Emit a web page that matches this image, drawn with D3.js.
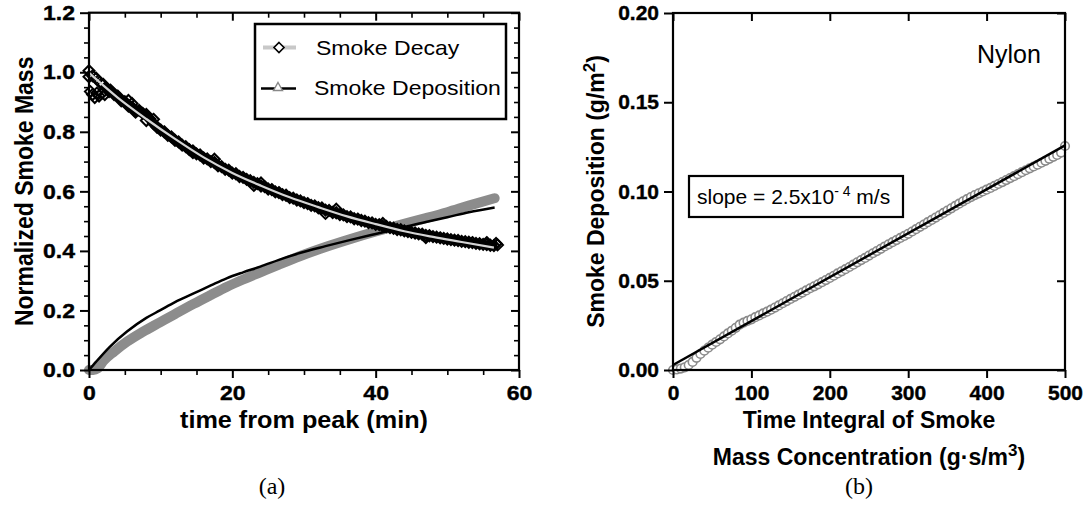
<!DOCTYPE html>
<html>
<head>
<meta charset="utf-8">
<script src="https://cdn.jsdelivr.net/npm/d3@7"></script>
<style>
  body { margin: 0; background: #fff; }
  svg text { font-family: "Liberation Sans", Arial, sans-serif; }
</style>
</head>
<body>
<svg id="fig" width="1085" height="512"></svg>
<script>
// ---- panel (a): normalized smoke mass vs time (min) ----
// decay data, one reading every 0.5 min from t = 0
const decayMass = [1.005,0.988,0.980,0.966,0.959,0.944,0.940,0.925,0.920,0.904,0.901,0.886,0.883,0.866,
  0.872,0.862,0.858,0.843,0.828,0.815,0.806,0.800,0.788,0.783,0.771,0.766,0.755,0.750,0.740,0.736,
  0.726,0.722,0.712,0.709,0.700,0.697,0.686,0.683,0.674,0.671,0.661,0.659,0.650,0.647,0.640,0.636,
  0.630,0.626,0.618,0.616,0.608,0.606,0.598,0.596,0.589,0.587,0.579,0.577,0.571,0.568,0.562,0.559,
  0.553,0.551,0.545,0.544,0.537,0.536,0.529,0.528,0.522,0.521,0.515,0.514,0.508,0.507,0.502,0.500,
  0.495,0.494,0.489,0.488,0.483,0.482,0.478,0.476,0.472,0.471,0.467,0.465,0.462,0.460,0.457,0.456,
  0.452,0.451,0.448,0.446,0.444,0.442,0.440,0.438,0.436,0.435,0.432,0.431,0.429,0.428,0.425,0.424,
  0.422,0.421,0.419,0.418,0.420];
// scattered decay points off the main band [t, value]
const decayScatter = [[0,0.985],[0.2,0.935],[0.5,0.925],[0.8,0.915],[1.1,0.93],[1.4,0.92],[1.8,0.93],
  [2.2,0.925],[2.8,0.935],[5.5,0.905],[6,0.895],[8,0.838],[9,0.842],[14.5,0.73],[17.5,0.708],[23,0.62],
  [24,0.628],[33,0.526],[34.5,0.54],[41,0.492],[47,0.445],[55.5,0.428],[56.8,0.425]];
// decay fit [t, value]
const decayFit = [[0,0.998],[4,0.915],[8,0.843],[12,0.776],[16,0.714],[20,0.662],[24,0.619],[28,0.58],
  [32,0.547],[36,0.516],[40,0.49],[44,0.466],[48,0.447],[52,0.43],[56.5,0.411]];
// deposition data (dense triangles) [t, value]
const depoData = [[0,0],[0.6,0],[1.2,0.005],[2,0.03],[3.5,0.062],[5.3,0.095],[7.5,0.128],[9.9,0.16],
  [12,0.188],[14.6,0.222],[17,0.252],[19.2,0.279],[21.5,0.304],[23.9,0.328],[26.5,0.354],[29.4,0.382],
  [33,0.413],[36.5,0.44],[40,0.465],[43.2,0.486],[47,0.51],[50,0.53],[53,0.552],[56.6,0.577]];
// deposition fit [t, value]
const depoFit = [[0,0],[1,0.028],[2.9,0.078],[5.3,0.129],[8,0.175],[9.9,0.2],[12,0.228],[14.6,0.257],
  [17,0.284],[19.2,0.308],[21.5,0.328],[23.9,0.347],[26.5,0.37],[29.4,0.393],[33,0.416],[36.5,0.437],
  [40,0.457],[43.2,0.475],[47,0.497],[50,0.513],[53,0.53],[56.6,0.546]];

const aXMajor = [0, 20, 40, 60];
const aXMinor = [5, 10, 15, 25, 30, 35, 45, 50, 55];
const aYMajor = [0, 0.2, 0.4, 0.6, 0.8, 1.0, 1.2];
const aYMinor = [0.05,0.1,0.15,0.25,0.3,0.35,0.45,0.5,0.55,0.65,0.7,0.75,0.85,0.9,0.95,1.05,1.1,1.15];

// ---- panel (b): deposition vs time integral, one circle every 5 g*s/m3 ----
const nylonDepo = [0,0.0003,0.0008,0.0015,0.0028,0.0045,0.0068,0.0090,0.0108,0.0125,0.0142,0.0157,
  0.0172,0.0188,0.0205,0.0220,0.0236,0.0254,0.0265,0.0275,0.0284,0.0296,0.0306,0.0317,0.0327,0.0338,
  0.0350,0.0362,0.0374,0.0386,0.0398,0.0410,0.0422,0.0434,0.0446,0.0458,0.0469,0.0480,0.0492,0.0504,
  0.0516,0.0528,0.0541,0.0553,0.0565,0.0577,0.0590,0.0603,0.0616,0.0628,0.0641,0.0654,0.0666,0.0679,
  0.0692,0.0704,0.0716,0.0728,0.0740,0.0751,0.0763,0.0776,0.0789,0.0802,0.0815,0.0828,0.0841,0.0854,
  0.0867,0.0880,0.0893,0.0906,0.0919,0.0932,0.0945,0.0957,0.0969,0.0980,0.0990,0.1000,0.1010,0.1020,
  0.1031,0.1042,0.1053,0.1064,0.1075,0.1086,0.1097,0.1108,0.1119,0.1130,0.1140,0.1150,0.1161,0.1172,
  0.1183,0.1194,0.1205,0.1218,0.1255];
const nylonFit = [[0, 0.0028], [500, 0.1258]];
const bXMajor = [0, 100, 200, 300, 400, 500];
const bYMajor = [0, 0.05, 0.10, 0.15, 0.20];

const svg = d3.select("#fig");
const SX = 1.097; // panel (a) is stretched sideways in the original figure

const xA = d3.scaleLinear().domain([0, 60]).range([89, 519]);
const yA = d3.scaleLinear().domain([0, 1.2]).range([370, 12.7]);
const xB = d3.scaleLinear().domain([0, 500]).range([673, 1065]);
const yB = d3.scaleLinear().domain([0, 0.2]).range([370, 13]);

function tidy(g, w) {
  g.select(".domain").remove();
  g.selectAll("line").attr("stroke", "#000").attr("stroke-width", w);
  g.selectAll("text").attr("font-family", "Liberation Sans, Arial, sans-serif")
    .attr("font-size", 21).attr("font-weight", "bold").attr("fill", "#000")
    .attr("stroke", "#000").attr("stroke-width", 0.4);
}

function drawAxes(x, y, o) {
  const [x0, x1] = x.range(), [y0, y1] = y.range();
  const g = svg.append("g");
  const add = (tr, axis, w) => g.append("g").attr("transform", tr).call(axis).call(s => tidy(s, w));

  const bot = add(`translate(0,${y0})`, d3.axisBottom(x).tickValues(o.xMajor).tickSize(8).tickPadding(7).tickFormat(o.xFmt), 2);
  add(`translate(0,${y1})`, d3.axisBottom(x).tickValues(o.xMajor).tickSize(8).tickFormat(""), 2);
  const lef = add(`translate(${x0},0)`, d3.axisLeft(y).tickValues(o.yMajor).tickSize(9).tickPadding(5).tickFormat(o.yFmt), 2);
  add(`translate(${x1},0)`, d3.axisLeft(y).tickValues(o.yMajor).tickSize(8).tickFormat(""), 2);
  if (o.xMinor) {
    add(`translate(0,${y0})`, d3.axisBottom(x).tickValues(o.xMinor).tickSize(5).tickFormat(""), 1.6);
    add(`translate(0,${y1})`, d3.axisBottom(x).tickValues(o.xMinor).tickSize(5).tickFormat(""), 1.6);
  }
  if (o.yMinor) {
    add(`translate(${x0},0)`, d3.axisLeft(y).tickValues(o.yMinor).tickSize(5).tickFormat(""), 1.6);
    add(`translate(${x1},0)`, d3.axisLeft(y).tickValues(o.yMinor).tickSize(5).tickFormat(""), 1.6);
  }
  if (o.stretch) {
    bot.selectAll("text").attr("transform", `scale(${o.stretch},1)`);
    lef.selectAll("text").attr("transform", `scale(${o.stretch},1)`).attr("x", -14 / o.stretch);
  }
  g.append("rect")
    .attr("x", x0).attr("y", y1).attr("width", x1 - x0).attr("height", y0 - y1)
    .attr("fill", "none").attr("stroke", "#000").attr("stroke-width", 2.2);
}

// ---------- panel (a) ----------
const lineA = d3.line().x(d => xA(d[0])).y(d => yA(d[1])).curve(d3.curveMonotoneX);

svg.append("path").datum(depoData).attr("d", lineA)
  .attr("fill", "none").attr("stroke", "#8c8c8c").attr("stroke-width", 10).attr("stroke-linecap", "round");
svg.append("path").datum(depoFit).attr("d", lineA)
  .attr("fill", "none").attr("stroke", "#000").attr("stroke-width", 2.5);

const diamond = "M0,-5.5L5.5,0L0,5.5L-5.5,0Z";
const decaySeries = decayMass.map((v, i) => [i * 0.5, v]);
// the diamonds sit so close together that they read as a solid black band
svg.append("path").datum(decaySeries.slice(4))
  .attr("d", d3.line().x(d => xA(d[0])).y(d => yA(d[1])))
  .attr("fill", "none").attr("stroke", "#000").attr("stroke-width", 8.5);
svg.append("g").selectAll("path").data(decaySeries.concat(decayScatter)).join("path")
  .attr("d", diamond)
  .attr("transform", d => `translate(${xA(d[0])},${yA(d[1])})`)
  .attr("fill", "none").attr("stroke", "#000").attr("stroke-width", 2);
svg.append("path").datum(decayFit).attr("d", lineA)
  .attr("fill", "none").attr("stroke", "#d4d4d4").attr("stroke-width", 2.2);

drawAxes(xA, yA, {
  xMajor: aXMajor, xMinor: aXMinor, yMajor: aYMajor, yMinor: aYMinor,
  xFmt: d3.format("d"), yFmt: d3.format(".1f"), stretch: SX
});

svg.append("text")
  .attr("transform", `translate(${(xA.range()[0] + xA.range()[1]) / 2},428) scale(${SX},1)`)
  .attr("text-anchor", "middle").attr("font-size", 23).attr("font-weight", "bold")
  .text("time from peak (min)");
svg.append("text")
  .attr("transform", `translate(33,${(yA.range()[0] + yA.range()[1]) / 2}) scale(${SX},1) rotate(-90)`)
  .attr("text-anchor", "middle").attr("font-size", 23).attr("font-weight", "bold")
  .text("Normalized Smoke Mass");

// legend
const leg = svg.append("g");
leg.append("rect").attr("x", 255).attr("y", 24).attr("width", 251).attr("height", 95)
  .attr("fill", "#fff").attr("stroke", "#000").attr("stroke-width", 2.5);
leg.append("line").attr("x1", 263).attr("x2", 296).attr("y1", 47.5).attr("y2", 47.5)
  .attr("stroke", "#c8c8c8").attr("stroke-width", 4);
leg.append("path").attr("d", "M0,-5L5,0L0,5L-5,0Z").attr("transform", "translate(279,47.5)")
  .attr("fill", "#fff").attr("stroke", "#000").attr("stroke-width", 1.6);
leg.append("line").attr("x1", 261).attr("x2", 296).attr("y1", 88.5).attr("y2", 88.5)
  .attr("stroke", "#000").attr("stroke-width", 2.5);
leg.append("path").attr("d", "M0,-4.5L4.5,3.5L-4.5,3.5Z").attr("transform", "translate(278,87)")
  .attr("fill", "#fff").attr("stroke", "#888").attr("stroke-width", 1.4);
leg.append("text").attr("transform", `translate(316,55) scale(${SX},1)`)
  .attr("font-size", 21).text("Smoke Decay");
leg.append("text").attr("transform", `translate(314,95) scale(${SX},1)`)
  .attr("font-size", 21).text("Smoke Deposition");

svg.append("text").attr("x", 272).attr("y", 494).attr("text-anchor", "middle")
  .attr("font-size", 24)
  .style("font-family", "'Liberation Serif', 'Times New Roman', serif")
  .text("(a)");

// ---------- panel (b) ----------
const nylonPts = nylonDepo.map((v, i) => [i * 5, v]);
svg.append("g").selectAll("circle").data(nylonPts).join("circle")
  .attr("cx", d => xB(d[0])).attr("cy", d => yB(d[1])).attr("r", 4.3)
  .attr("fill", "#fff").attr("stroke", "#8a8a8a").attr("stroke-width", 1.6);
svg.append("path").datum(nylonFit)
  .attr("d", d3.line().x(d => xB(d[0])).y(d => yB(d[1])))
  .attr("fill", "none").attr("stroke", "#000").attr("stroke-width", 2.5);

drawAxes(xB, yB, {
  xMajor: bXMajor, yMajor: bYMajor, xFmt: d3.format("d"), yFmt: d3.format(".2f")
});

const cxB = (xB.range()[0] + xB.range()[1]) / 2;
svg.append("text").attr("x", cxB).attr("y", 428).attr("text-anchor", "middle")
  .attr("font-size", 23).attr("font-weight", "bold").text("Time Integral of Smoke");
const t2 = svg.append("text").attr("x", cxB).attr("y", 465).attr("text-anchor", "middle")
  .attr("font-size", 23).attr("font-weight", "bold");
t2.append("tspan").text("Mass Concentration (g\u00b7s/m");
t2.append("tspan").attr("dy", -9).attr("font-size", 17).text("3");
t2.append("tspan").attr("dy", 9).text(")");

const yt = svg.append("text")
  .attr("transform", `translate(604,${(yB.range()[0] + yB.range()[1]) / 2}) rotate(-90)`)
  .attr("text-anchor", "middle").attr("font-size", 23).attr("font-weight", "bold");
yt.append("tspan").text("Smoke Deposition (g/m");
yt.append("tspan").attr("dy", -9).attr("font-size", 17).text("2");
yt.append("tspan").attr("dy", 9).text(")");

svg.append("text").attr("x", 977).attr("y", 63).attr("font-size", 25).text("Nylon");

svg.append("rect").attr("x", 689).attr("y", 176).attr("width", 214).attr("height", 41)
  .attr("fill", "#fff").attr("stroke", "#000").attr("stroke-width", 2.2);
const st = svg.append("text").attr("x", 697).attr("y", 204).attr("font-size", 21);
st.append("tspan").text("slope = 2.5x10");
st.append("tspan").attr("dy", -8).attr("font-size", 14).text("- 4");
st.append("tspan").attr("dy", 8).text(" m/s");

svg.append("text").attr("x", 859).attr("y", 494).attr("text-anchor", "middle")
  .attr("font-size", 24)
  .style("font-family", "'Liberation Serif', 'Times New Roman', serif")
  .text("(b)");
</script>
</body>
</html>
